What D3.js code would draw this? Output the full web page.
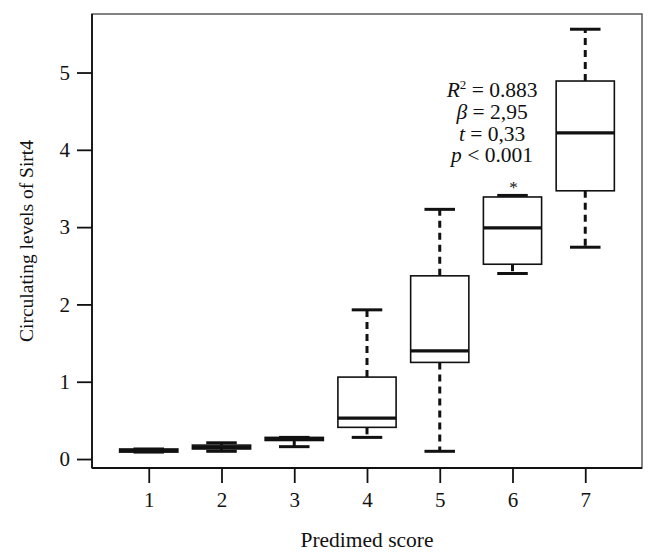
<!DOCTYPE html>
<html><head><meta charset="utf-8">
<script src="https://cdn.jsdelivr.net/npm/d3@7"></script>
<style>
html,body{margin:0;padding:0;background:#fff;}
text{font-family:"Liberation Serif","DejaVu Serif",serif;fill:#111;}
</style></head>
<body><svg id="chart" width="657" height="556"></svg>
<script>
const categories = [1, 2, 3, 4, 5, 6, 7];
const whiskerLow = [0.09, 0.10, 0.16, 0.28, 0.10, 2.40, 2.74];
const q1 = [0.09, 0.13, 0.24, 0.41, 1.25, 2.52, 3.47];
const medians = [0.11, 0.15, 0.26, 0.53, 1.40, 2.99, 4.22];
const q3 = [0.13, 0.18, 0.28, 1.06, 2.37, 3.39, 4.89];
const whiskerHigh = [0.13, 0.21, 0.28, 1.93, 3.23, 3.41, 5.56];
const yTicks = [0, 1, 2, 3, 4, 5];
const statsLines = [
  {it: "R", sup: "2", rest: " = 0.883"},
  {it: "β", rest: " = 2,95"},
  {it: "t", rest: " = 0,33"},
  {it: "p", rest: " < 0.001"}
];
const starCategory = 6;

const svg = d3.select("#chart");
const pLeft = 92, pRight = 642, pTop = 14, pBottom = 468;
const x = d3.scaleLinear().domain([0.22, 7.78]).range([pLeft, pRight]);
const y = d3.scaleLinear().domain([-0.116, 5.757]).range([pBottom, pTop]);
const FONT = '"Liberation Serif","DejaVu Serif",serif';

// frame
svg.append("rect").attr("x", pLeft).attr("y", pTop).attr("width", pRight - pLeft).attr("height", pBottom - pTop)
  .attr("fill", "none").attr("stroke", "#5a5a5a").attr("stroke-width", 1.5);

// axes
const yAxis = d3.axisLeft(y).tickValues(yTicks).tickSize(15).tickPadding(7).tickFormat(d3.format("d"));
const gy = svg.append("g").attr("transform", `translate(${pLeft},0)`).call(yAxis);
gy.select(".domain").attr("stroke", "#111").attr("stroke-width", 1.8).attr("d", `M0,${pTop}V${pBottom}`);
gy.selectAll(".tick line").attr("stroke", "#111").attr("stroke-width", 1.8);
gy.selectAll(".tick text").attr("font-size", 21).style("font-family", FONT).attr("fill", "#111");

const xAxis = d3.axisBottom(x).tickValues(categories).tickSize(15).tickPadding(9).tickFormat(d3.format("d"));
const gx = svg.append("g").attr("transform", `translate(0,${pBottom})`).call(xAxis);
gx.select(".domain").attr("stroke", "#111").attr("stroke-width", 1.8).attr("d", `M${pLeft},0H${pRight}`);
gx.selectAll(".tick line").attr("stroke", "#111").attr("stroke-width", 1.8);
gx.selectAll(".tick text").attr("font-size", 21).style("font-family", FONT).attr("fill", "#111");

// boxes
const boxW = 0.8, capW = 0.42;
const data = categories.map((c, i) => ({c, lo: whiskerLow[i], q1: q1[i], med: medians[i], q3: q3[i], hi: whiskerHigh[i]}));
const g = svg.append("g");
data.forEach(d => {
  const cx = x(d.c);
  const bw = x(d.c + boxW / 2) - x(d.c - boxW / 2);
  const cw = x(d.c + capW / 2) - x(d.c - capW / 2);
  if (d.hi > d.q3) g.append("line").attr("x1", cx).attr("x2", cx).attr("y1", y(d.q3)).attr("y2", y(d.hi))
    .attr("stroke", "#111").attr("stroke-width", 3).attr("stroke-dasharray", "7,5");
  if (d.lo < d.q1) g.append("line").attr("x1", cx).attr("x2", cx).attr("y1", y(d.q1)).attr("y2", y(d.lo))
    .attr("stroke", "#111").attr("stroke-width", 3).attr("stroke-dasharray", "7,5");
  [d.lo, d.hi].forEach(v => {
    g.append("line").attr("x1", cx - cw / 2).attr("x2", cx + cw / 2).attr("y1", y(v)).attr("y2", y(v))
      .attr("stroke", "#111").attr("stroke-width", 3);
  });
  g.append("rect").attr("x", cx - bw / 2).attr("width", bw).attr("y", y(d.q3)).attr("height", y(d.q1) - y(d.q3))
    .attr("fill", "#fff").attr("stroke", "#111").attr("stroke-width", 1.6);
  g.append("line").attr("x1", cx - bw / 2).attr("x2", cx + bw / 2).attr("y1", y(d.med)).attr("y2", y(d.med))
    .attr("stroke", "#111").attr("stroke-width", 3.2);
});

// annotation
const annX = x(5.72);
const annY0 = y(4.68);
statsLines.forEach((s, i) => {
  const t = svg.append("text").attr("x", annX).attr("y", annY0 + i * 21.7).attr("text-anchor", "middle").attr("font-size", 21.5);
  t.append("tspan").attr("font-style", "italic").text(s.it);
  if (s.sup) t.append("tspan").attr("font-size", 13).attr("dy", -8).text(s.sup);
  t.append("tspan").attr("dy", s.sup ? 8 : 0).text(s.rest);
});
svg.append("text").attr("x", x(starCategory) + 1).attr("y", y(whiskerHigh[starCategory - 1]) - 2)
  .attr("text-anchor", "middle").attr("font-size", 17).text("*");

// axis titles (centred on the plot region)
svg.append("text").attr("transform", `translate(33,${(pTop + pBottom) / 2}) rotate(-90)`)
  .attr("text-anchor", "middle").attr("font-size", 19.5).text("Circulating levels of Sirt4");
svg.append("text").attr("x", (pLeft + pRight) / 2).attr("y", 547).attr("text-anchor", "middle").attr("font-size", 21.5).text("Predimed score");
</script></body></html>
